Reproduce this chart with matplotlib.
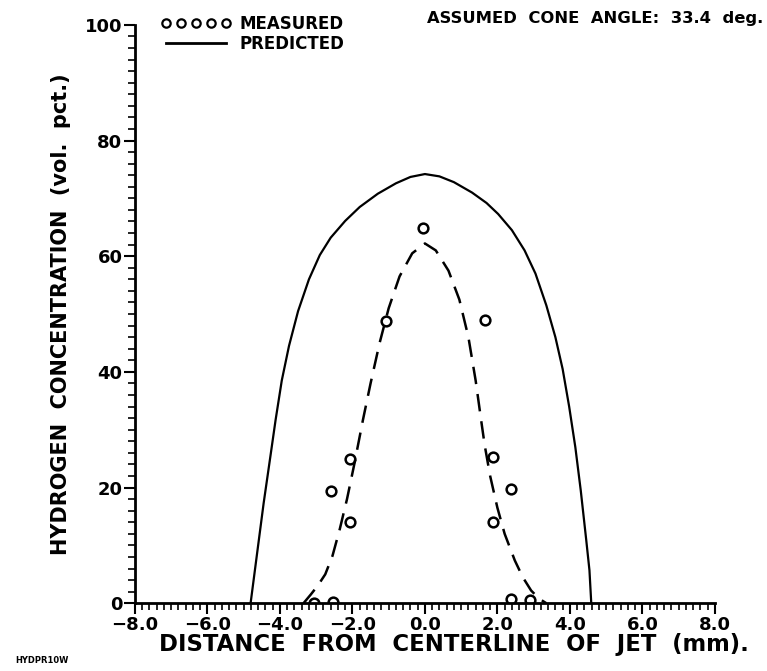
import matplotlib
matplotlib.use('Agg')
import matplotlib.pyplot as plt
import matplotlib.ticker as mtick
from matplotlib.lines import Line2D

# measured points (distance mm, H2 vol. pct.)
meas_x = [-3.07, -2.54, -2.59, -2.08, -2.06, -1.08, -0.06, 1.66, 1.88, 1.88, 2.38, 2.38, 2.89]
meas_y = [0.1, 0.2, 19.4, 24.9, 14.0, 48.8, 64.9, 49.0, 25.3, 14.1, 19.7, 0.8, 0.5]

# predicted profile (solid)
pred_x = [-4.81, -4.65, -4.45, -4.25, -4.12, -3.95, -3.75, -3.5, -3.2, -2.9, -2.6, -2.2,
          -1.8, -1.3, -0.8, -0.4, 0.0, 0.4, 0.8, 1.3, 1.7, 2.02, 2.4, 2.75, 3.05, 3.35,
          3.6, 3.8, 3.98, 4.15, 4.3, 4.45, 4.54, 4.59]
pred_y = [0.0, 7.7, 17.3, 26.0, 31.7, 38.5, 44.5, 50.5, 56.0, 60.2, 63.2, 66.1,
          68.5, 70.8, 72.6, 73.7, 74.2, 73.8, 72.8, 71.0, 69.2, 67.3, 64.5, 61.0, 57.0, 51.5,
          46.0, 40.5, 34.0, 27.0, 19.5, 11.0, 5.7, 0.0]

# dashed curve through the measurements
fit_x = [-3.35, -3.15, -2.95, -2.75, -2.55, -2.35, -2.15, -1.95, -1.71, -1.5, -1.25, -1.0,
         -0.7, -0.35, 0.0, 0.3, 0.65, 0.95, 1.2, 1.4, 1.55, 1.65, 1.8, 2.0, 2.2, 2.48,
         2.7, 2.93, 3.15, 3.35]
fit_y = [0.0, 1.5, 3.1, 5.0, 8.2, 12.8, 18.0, 24.0, 31.7, 38.0, 45.0, 51.0,
         56.5, 60.5, 62.2, 61.0, 57.5, 52.5, 46.0, 38.5, 31.7, 27.3, 22.0, 16.5, 12.0, 7.4,
         4.5, 2.2, 0.8, 0.0]

x_ticks = [-8.0, -6.0, -4.0, -2.0, 0.0, 2.0, 4.0, 6.0, 8.0]
y_ticks = [0, 20, 40, 60, 80, 100]

plt.rcParams['font.family'] = ['DejaVu Sans']

fig = plt.figure(figsize=(7.67, 6.71), dpi=100)
ax = fig.add_axes([0.176, 0.101, 0.756, 0.862])

ax.plot(pred_x, pred_y, color='black', lw=1.6)
ax.plot(fit_x, fit_y, color='black', lw=1.8, dashes=(7, 4))
ax.plot(meas_x, meas_y, 'o', mfc='none', mec='black', ms=7, mew=1.8, ls='none')

ax.set_xlim(-8, 8)
ax.set_ylim(0, 100)
for s in ['top', 'right']:
    ax.spines[s].set_visible(False)
for s in ['left', 'bottom']:
    ax.spines[s].set_linewidth(2)

ax.set_xticks(x_ticks)
ax.set_xticklabels(['{:.1f}'.format(v).replace('-', '\u2212') for v in x_ticks],
                   fontweight='bold')
ax.set_yticks(y_ticks)
ax.set_yticklabels([str(v) for v in y_ticks], fontweight='bold')
ax.xaxis.set_minor_locator(mtick.MultipleLocator(0.2))
ax.yaxis.set_minor_locator(mtick.MultipleLocator(2))
ax.tick_params(which='major', length=8, width=1.5, labelsize=13, pad=1)
ax.tick_params(which='minor', length=5, width=1.2)

ax.set_xlabel('DISTANCE  FROM  CENTERLINE  OF  JET  (mm).', fontsize=16.4,
              fontweight='bold')
ax.xaxis.set_label_coords(0.55, -0.052)
ax.set_ylabel('HYDROGEN  CONCENTRATION  (vol.  pct.)', fontsize=15,
              fontweight='bold', labelpad=10)

handles = [Line2D([], [], marker='o', mfc='none', mec='black', ms=6, mew=1.6, ls='none'),
           Line2D([], [], color='black', lw=2)]
fig.legend(handles, ['MEASURED', 'PREDICTED'], loc='upper left',
           bbox_to_anchor=(0.19, 1.0), frameon=False, numpoints=5,
           handlelength=4.2, handletextpad=0.5, labelspacing=0.1,
           prop={'size': 12, 'weight': 'bold'})

fig.text(0.557, 0.973, 'ASSUMED  CONE  ANGLE:  33.4  deg.', fontsize=11.8,
         fontweight='bold', va='center')
fig.text(0.02, 0.016, 'HYDPR10W', fontsize=6, fontweight='bold', va='center')

fig.savefig('out.png', dpi=100)
